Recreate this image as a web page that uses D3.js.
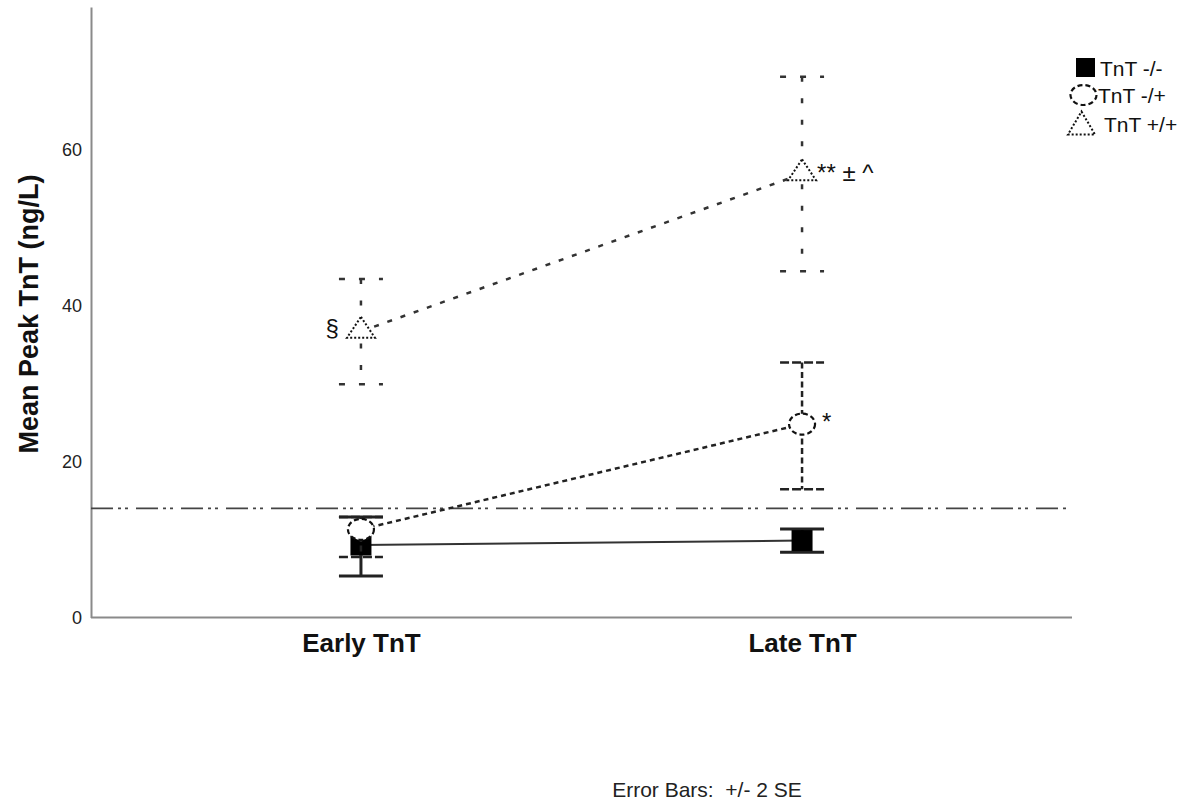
<!DOCTYPE html>
<html>
<head>
<meta charset="utf-8">
<script src="https://cdn.jsdelivr.net/npm/d3@7"></script>
<style>
  html, body { margin: 0; padding: 0; background: #fff; }
  svg { display: block; font-family: "Liberation Sans", Arial, sans-serif; }
</style>
</head>
<body>
<svg id="chart" width="1186" height="803"></svg>
<script>
// ---- Data ----
const categories = ["Early TnT", "Late TnT"];
const seriesNames = ["TnT -/-", "TnT -/+", "TnT +/+"];

const meanNeg = [9.3, 9.87];
const lowNeg  = [5.33, 8.37];
const highNeg = [12.9, 11.36];

const meanMid = [11.3, 24.8];
const lowMid  = [7.77, 16.45];
const highMid = [12.9, 32.7];

const meanPos = [36.7, 56.9];
const lowPos  = [29.9, 44.4];
const highPos = [43.4, 69.35];

const yTicks = [0, 20, 40, 60];
const referenceValue = 14;
const footnote = "Error Bars:  +/- 2 SE";
const yTitle = "Mean Peak TnT (ng/L)";

const annotationTexts = ["§", "** ± ^", "*"];
const annotationSeries = [2, 2, 1];
const annotationCats = [0, 1, 1];

(function () {
const series = [
  { name: seriesNames[0], mean: meanNeg, low: lowNeg, high: highNeg, kind: "square" },
  { name: seriesNames[1], mean: meanMid, low: lowMid, high: highMid, kind: "circle" },
  { name: seriesNames[2], mean: meanPos, low: lowPos, high: highPos, kind: "triangle" }
];

const styles = {
  square:   { line: { stroke: "#333", width: 2, dash: null },
              err:  { stroke: "#222", width: 3, dash: null },
              cap:  { stroke: "#222", width: 3, dash: null } },
  circle:   { line: { stroke: "#222", width: 2.5, dash: "5,4" },
              err:  { stroke: "#222", width: 2.5, dash: "6,3.5" },
              cap:  { stroke: "#222", width: 2.5, dash: "9,3" } },
  triangle: { line: { stroke: "#333", width: 2.5, dash: "5,9" },
              err:  { stroke: "#333", width: 2.5, dash: "5,16.5" },
              cap:  { stroke: "#333", width: 2.5, dash: "6,14" } }
};

const svg = d3.select("#chart");
const pLeft = 91, pRight = 1072, pTop = 7, pBottom = 617.5;

const x = d3.scalePoint().domain(categories).range([pLeft, pRight]).padding(0.612);
const y = d3.scaleLinear().domain([0, 78.3]).range([pBottom, pTop]);

// axes
const yAxis = d3.axisLeft(y).tickValues(yTicks).tickSize(0).tickPadding(9).tickFormat(d3.format("d"));
const gy = svg.append("g").attr("transform", `translate(${pLeft},0)`).call(yAxis);
gy.select(".domain").attr("stroke", "#8a8a8a").attr("stroke-width", 2);
gy.selectAll("text").attr("font-size", 18).attr("fill", "#222")
  .attr("font-family", "'Liberation Sans', Arial, sans-serif");

const xAxis = d3.axisBottom(x).tickSize(0).tickPadding(16);
const gx = svg.append("g").attr("transform", `translate(0,${pBottom})`).call(xAxis);
gx.select(".domain").attr("stroke", "#8a8a8a").attr("stroke-width", 2)
  .attr("d", `M${pLeft},0H${pRight}`);
gx.selectAll("text").attr("font-size", 26).attr("font-weight", "bold").attr("fill", "#111")
  .attr("font-family", "'Liberation Sans', Arial, sans-serif");

// y axis title
svg.append("text")
  .attr("transform", `translate(38,314) rotate(-90)`)
  .attr("text-anchor", "middle")
  .attr("font-size", 27).attr("font-weight", "bold").attr("fill", "#111")
  .text(yTitle);

// reference line
svg.append("line")
  .attr("x1", pLeft).attr("x2", 1070)
  .attr("y1", y(referenceValue)).attr("y2", y(referenceValue))
  .attr("stroke", "#444").attr("stroke-width", 1.8)
  .attr("stroke-dasharray", "22,5,3,4,3,8");

// connecting lines
const lineGen = d3.line().x((d, i) => x(categories[i])).y(d => y(d));
series.forEach(s => {
  const st = styles[s.kind].line;
  svg.append("path").attr("d", lineGen(s.mean))
    .attr("fill", "none").attr("stroke", st.stroke).attr("stroke-width", st.width)
    .attr("stroke-dasharray", st.dash);
});

const capHalf = 22;

function drawMarker(g, kind, cx, cy, legend) {
  if (kind === "square") {
    const h = legend ? 9.5 : 10.5;
    g.append("rect").attr("x", cx - h).attr("y", cy - h).attr("width", 2 * h).attr("height", 2 * h)
      .attr("fill", "#000");
  } else if (kind === "circle") {
    g.append("ellipse").attr("cx", cx).attr("cy", cy)
      .attr("rx", 13).attr("ry", legend ? 10 : 10.5)
      .attr("fill", "#fff").attr("stroke", "#111").attr("stroke-width", 2.2)
      .attr("stroke-dasharray", "5,3");
  } else {
    const w = legend ? 13.5 : 14, up = legend ? 12 : 14.5, dn = legend ? 11 : 6.5;
    g.append("path")
      .attr("d", `M${cx},${cy - up}L${cx + w},${cy + dn}L${cx - w},${cy + dn}Z`)
      .attr("fill", "#fff").attr("stroke", "#111").attr("stroke-width", 2)
      .attr("stroke-dasharray", "2,2");
  }
}

// error bars + markers
series.forEach(s => {
  const st = styles[s.kind];
  const g = svg.append("g");
  categories.forEach((c, i) => {
    const cx = x(c);
    g.append("line").attr("x1", cx).attr("x2", cx)
      .attr("y1", y(s.high[i])).attr("y2", y(s.low[i]))
      .attr("stroke", st.err.stroke).attr("stroke-width", st.err.width)
      .attr("stroke-dasharray", st.err.dash);
    [s.high[i], s.low[i]].forEach(v => {
      g.append("line").attr("x1", cx - capHalf).attr("x2", cx + capHalf)
        .attr("y1", y(v)).attr("y2", y(v))
        .attr("stroke", st.cap.stroke).attr("stroke-width", st.cap.width)
        .attr("stroke-dasharray", st.cap.dash);
    });
  });
  categories.forEach((c, i) => drawMarker(g, s.kind, x(c), y(s.mean[i]), false));
});

// annotations
const annoOffsets = [[-22, 5, "end"], [15, 7, "start"], [20, 6, "start"]];
annotationTexts.forEach((t, k) => {
  const s = series[annotationSeries[k]];
  const ci = annotationCats[k];
  const o = annoOffsets[k];
  svg.append("text")
    .attr("x", x(categories[ci]) + o[0])
    .attr("y", y(s.mean[ci]) + o[1])
    .attr("text-anchor", o[2])
    .attr("font-size", 24).attr("fill", "#111")
    .attr("xml:space", "preserve")
    .text(t);
});

// legend
const legendRows = [67.5, 95, 123.5];
const legendMarkX = [1085.5, 1083.5, 1081.5];
const legendTextX = [1100, 1098, 1104];
series.forEach((s, i) => {
  const g = svg.append("g");
  drawMarker(g, s.kind, legendMarkX[i], legendRows[i], true);
  g.append("text").attr("x", legendTextX[i]).attr("y", legendRows[i] + 8)
    .attr("font-size", 21).attr("fill", "#111").text(s.name);
});

// footnote
svg.append("text").attr("x", 707).attr("y", 797)
  .attr("text-anchor", "middle").attr("font-size", 21).attr("fill", "#222")
  .attr("xml:space", "preserve")
  .text(footnote);
})();
</script>
</body>
</html>
